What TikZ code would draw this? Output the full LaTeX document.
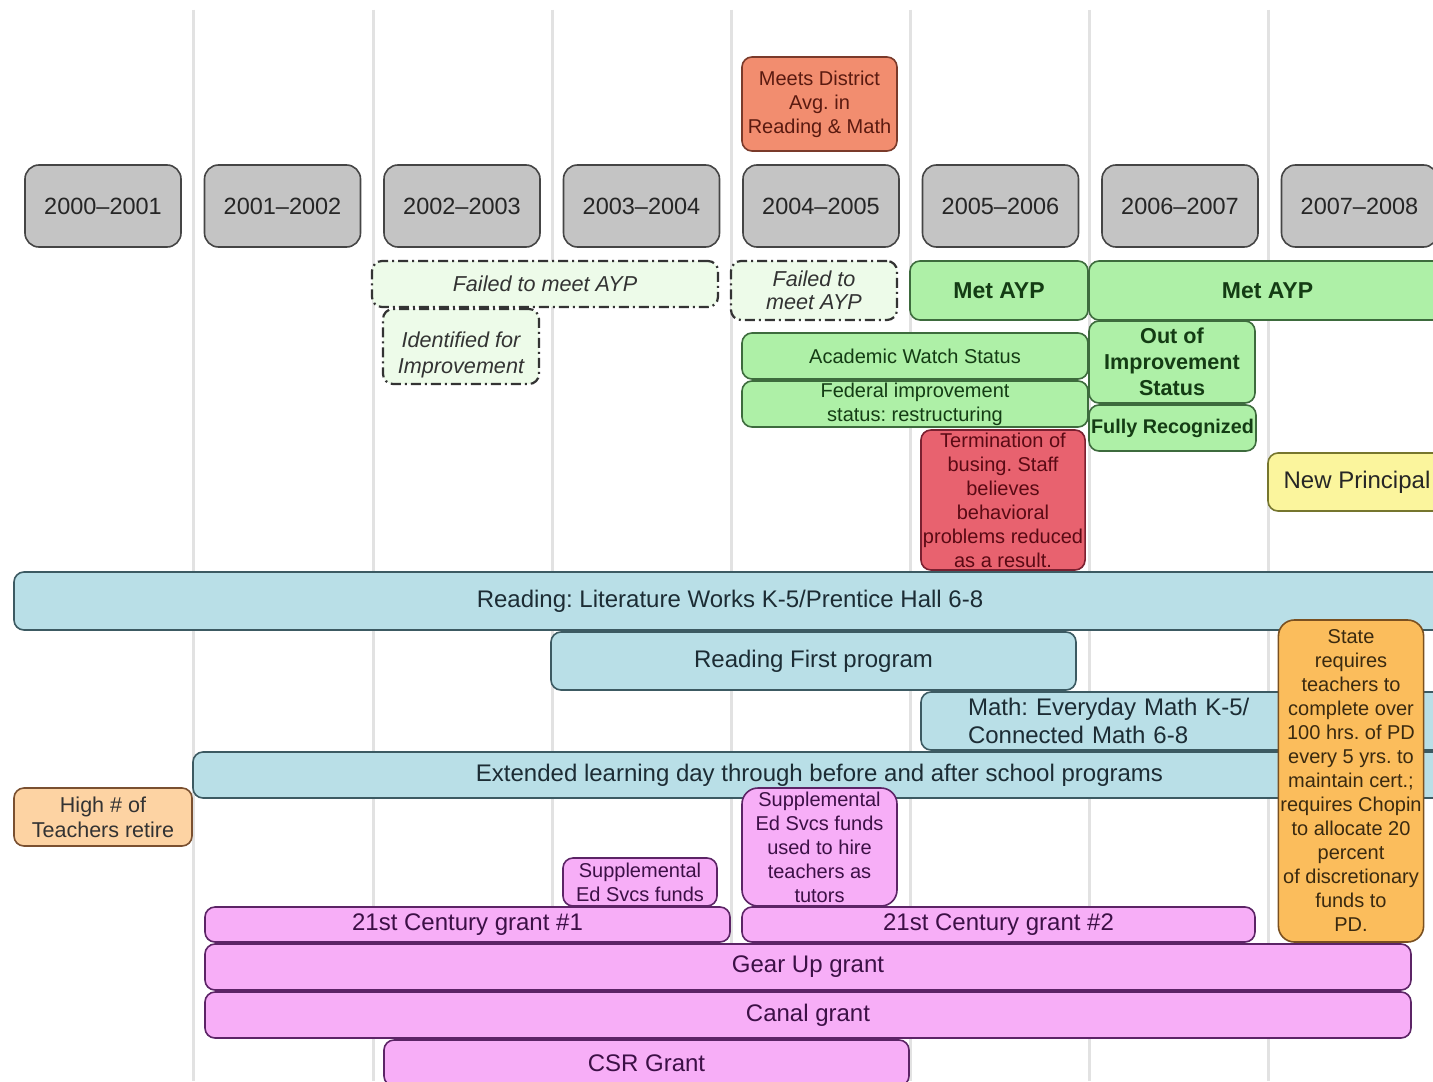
\documentclass[tikz,border=0pt]{standalone}
\usepackage{fontspec}
\setmainfont{Liberation Sans}
\frenchspacing
\usetikzlibrary{
positioning
}
\definecolor{gridgray}{HTML}{E2E2E2}
\definecolor{yearfill}{HTML}{C4C4C4}
\definecolor{yearline}{HTML}{454545}
\definecolor{salmonfill}{HTML}{F28D6F}
\definecolor{salmonline}{HTML}{7A3A2A}
\definecolor{salmontext}{HTML}{5A1A10}
\definecolor{failfill}{HTML}{EDFBE9}
\definecolor{greenfill}{HTML}{AEF0A7}
\definecolor{greenline}{HTML}{3D6B3D}
\definecolor{greentext}{HTML}{143C14}
\definecolor{redfill}{HTML}{E8626F}
\definecolor{redline}{HTML}{7A2030}
\definecolor{redtext}{HTML}{5A0A14}
\definecolor{yellowfill}{HTML}{FBF59D}
\definecolor{yellowline}{HTML}{76762E}
\definecolor{bluefill}{HTML}{B9DFE7}
\definecolor{blueline}{HTML}{3C5A62}
\definecolor{bluetext}{HTML}{1C2C34}
\definecolor{peachfill}{HTML}{FDD3A3}
\definecolor{peachline}{HTML}{7A5030}
\definecolor{orangefill}{HTML}{FBBD5C}
\definecolor{orangeline}{HTML}{7A5020}
\definecolor{orangetext}{HTML}{3A2A10}
\definecolor{pinkfill}{HTML}{F7AEF7}
\definecolor{pinkline}{HTML}{5C2466}
\definecolor{pinktext}{HTML}{3C1046}
\tikzset{
box/.style={
draw,
rounded corners=5pt,
line width=0.8pt,
align=center,
inner xsep=1pt,
inner ysep=0pt
},
dims/.style 2 args={
minimum width=#1,
minimum height=#2
},
yearbox/.style={
box,
rounded corners=7pt,
fill=yearfill,
draw=yearline,
text=black!85,
dims={78pt}{41pt},
font=\fontsize{11.75}{14}\selectfont
},
meetbox/.style={
box,
fill=salmonfill,
draw=salmonline,
text=salmontext,
font=\fontsize{10}{12}\selectfont
},
failbox/.style={
box,
fill=failfill,
draw=black!80,
line width=1.1pt,
dash pattern=on 5pt off 2pt on 1pt off 2pt,
text=black!80,
font=\fontsize{10.8}{11.5}\itshape
},
metbox/.style={
box,
fill=greenfill,
draw=greenline,
text=greentext,
font=\fontsize{11.5}{13}\bfseries
},
statusbox/.style={
box,
fill=greenfill,
draw=greenline,
text=greentext,
font=\fontsize{10}{12}\selectfont
},
busbox/.style={
box,
fill=redfill,
draw=redline,
text=redtext,
font=\fontsize{10}{12}\selectfont
},
bluebar/.style={
box,
fill=bluefill,
draw=blueline,
text=bluetext,
font=\fontsize{12}{14}\selectfont
},
peachbox/.style={
box,
fill=peachfill,
draw=peachline,
text=black!80,
font=\fontsize{10.75}{12.5}\selectfont
},
statebox/.style={
box,
rounded corners=8pt,
fill=orangefill,
draw=orangeline,
text=orangetext,
font=\fontsize{10}{12}\selectfont
},
pinkbar/.style={
box,
fill=pinkfill,
draw=pinkline,
text=pinktext,
font=\fontsize{12}{14}\selectfont
},
pinkbox/.style={
pinkbar,
font=\fontsize{10}{12}\selectfont
}
}
\begin{document}
\begin{tikzpicture}[x=0.5pt, y=-0.5pt, node distance=10.95pt]
\useasboundingbox (0,0) rectangle (1433,1081);
\clip (0,0) rectangle (1433,1081);
\fill[white] (0,0) rectangle (1433,1081);

\draw[gridgray, line width=1.5pt]
(193,10) -- (193,1081)
(373,10) -- (373,1081)
(552,10) -- (552,1081)
(731,10) -- (731,1081)
(910,10) -- (910,1081)
(1089,10) -- (1089,1081)
(1268,10) -- (1268,1081);

\node[yearbox] (y00) at (103,206) {2000\textendash2001};
\node[yearbox, right=of y00] (y01) {2001\textendash2002};
\node[yearbox, right=of y01] (y02) {2002\textendash2003};
\node[yearbox, right=of y02] (y03) {2003\textendash2004};
\node[yearbox, right=of y03] (y04) {2004\textendash2005};
\node[yearbox, right=of y04] (y05) {2005\textendash2006};
\node[yearbox, right=of y05] (y06) {2006\textendash2007};
\node[yearbox, right=of y06] (y07) {2007\textendash2008};

\node[meetbox, dims={77.5pt}{47pt}] (district) at (819.5,104) {Meets District\\Avg. in\\Reading \& Math};

\node[failbox, dims={173pt}{23pt}] (fail1) at (545,284) {Failed to meet AYP};
\node[failbox, dims={78pt}{37.5pt}, font=\fontsize{10.8}{13}\itshape, text height=30pt, text depth=3pt] (ident) at (461,346.5) {Identified for\\Improvement};
\node[failbox, dims={83pt}{29.5pt}] (fail2) at (814,290.5) {Failed to\\meet AYP};
\node[metbox, dims={89pt}{29.5pt}] (met1) at (999,290.5) {Met AYP};
\node[metbox, dims={178.5pt}{29.5pt}] (met2) at (1267.5,290.5) {Met AYP};
\node[statusbox, dims={173pt}{23pt}] (watch) at (915,356) {Academic Watch Status};
\node[statusbox, dims={173pt}{23pt}] (federal) at (915,404) {Federal improvement\\status: restructuring};
\node[metbox, dims={83pt}{41pt}, font=\fontsize{10.8}{13}\bfseries] (outimp) at (1172,362) {Out of\\Improvement\\Status};
\node[metbox, dims={83.5pt}{23pt}, font=\fontsize{9.9}{12}\bfseries] (fully) at (1172.5,428) {Fully Recognized};
\node[busbox, dims={82pt}{70pt}] (busing) at (1003,500) {Termination of\\busing. Staff\\believes\\behavioral\\problems reduced\\as a result.};
\node[box, fill=yellowfill, draw=yellowline, text=black!85, dims={89pt}{29pt}, font=\fontsize{12}{14}\selectfont] (principal) at (1357,482) {New Principal};

\node[bluebar, dims={716pt}{29pt}] (litworks) at (730,601) {Reading: Literature Works K-5/Prentice Hall 6-8};
\node[bluebar, dims={262.5pt}{29pt}] (readfirst) at (813.5,661) {Reading First program};
\node[bluebar, text width=215.5pt, inner xsep=23.5pt, align=left, minimum height=29pt] (math) at (1183.5,721) {Math: Everyday Math K-5/\\Connected Math 6-8};
\node[bluebar, dims={626.5pt}{23pt}] (extended) at (819.5,775) {Extended learning day through before and after school programs};
\node[peachbox, dims={89pt}{29pt}] (retire) at (103,817) {High \# of\\Teachers retire};
\node[statebox, dims={71pt}{161pt}] (state) at (1351,781) {State\\requires\\teachers to\\complete over\\100 hrs. of PD\\every 5 yrs. to\\maintain cert.;\\requires Chopin\\to allocate 20\\percent\\of discretionary\\funds to\\PD.};

\node[pinkbox, dims={77pt}{24pt}] (supp1) at (640,882) {Supplemental\\Ed Svcs funds};
\node[pinkbox, rounded corners=8pt, dims={77.5pt}{59pt}] (supp2) at (819.5,847) {Supplemental\\Ed Svcs funds\\used to hire\\teachers as\\tutors};
\node[pinkbar, dims={262.5pt}{17.5pt}] (cent1) at (467.5,924.5) {21st Century grant \#1};
\node[pinkbar, dims={256.5pt}{17.5pt}] (cent2) at (998.5,924.5) {21st Century grant \#2};
\node[pinkbar, dims={603pt}{23pt}] (gearup) at (808,967) {Gear Up grant};
\node[pinkbar, dims={603pt}{23pt}] (canal) at (808,1015) {Canal grant};
\node[pinkbar, dims={262.5pt}{23pt}] (csr) at (646.5,1063) {CSR Grant};
\end{tikzpicture}
\end{document}
